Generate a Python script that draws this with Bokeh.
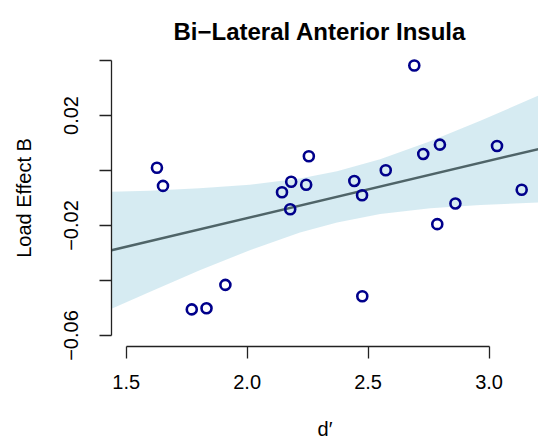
from bokeh.plotting import figure
from bokeh.models import Range1d, FixedTicker, ColumnDataSource
from bokeh.embed import file_html
from bokeh.resources import INLINE

# ---- data ----
d_prime = [1.627, 1.652, 1.771, 1.832, 1.910, 2.144, 2.182, 2.178, 2.244, 2.255,
           2.443, 2.475, 2.476, 2.573, 2.691, 2.728, 2.786, 2.797, 2.861, 3.033, 3.135]
load_effect_b = [0.0010, -0.0056, -0.0505, -0.0501, -0.0416, -0.0079, -0.0041, -0.0141,
                 -0.0052, 0.0052, -0.0038, -0.0090, -0.0457, 0.0001, 0.0382, 0.0060,
                 -0.0195, 0.0094, -0.0120, 0.0089, -0.0070]

fit_x = [1.4391, 3.2045]
fit_y = [-0.02902, 0.00780]

band_x = [1.4391, 1.5966, 1.8038, 2.0110, 2.2182, 2.3716, 2.5498, 2.7570, 2.9642, 3.2045]
band_upper = [-0.00777, -0.00733, -0.00649, -0.00521, -0.00295, -0.00029,
              0.00408, 0.01068, 0.01808, 0.02723]
band_lower = [-0.05027, -0.04415, -0.03631, -0.02898, -0.02257, -0.01888,
              -0.01582, -0.01374, -0.01254, -0.01163]

x_ticks = [1.5, 2.0, 2.5, 3.0]
x_tick_labels = {1.5: "1.5", 2.0: "2.0", 2.5: "2.5", 3.0: "3.0"}
y_ticks = [-0.06, -0.04, -0.02, 0.0, 0.02, 0.04]
y_tick_labels = {-0.06: "\u22120.06", -0.04: "", -0.02: "\u22120.02", 0.0: "", 0.02: "0.02", 0.04: ""}

title = "Bi\u2212Lateral Anterior Insula"
x_label = "d\u2032"
y_label = "Load Effect B"

FONT = "Liberation Sans"

p = figure(width=538, height=446, output_backend="svg", toolbar_location=None,
           x_range=Range1d(1.4391, 3.2045), y_range=Range1d(-0.064, 0.044),
           min_border_left=111, min_border_right=0, min_border_top=49, min_border_bottom=100,
           title=title)

p.outline_line_color = None
p.grid.visible = False
p.background_fill_color = "white"
p.border_fill_color = "white"

p.title.align = "left"
p.title.offset = 62
p.title.vertical_align = "bottom"
p.title.text_line_height = 0.6
p.title.text_font = FONT
p.title.text_font_size = "24px"
p.title.text_font_style = "bold"
p.title.text_color = "black"
p.title.standoff = 10

# confidence band
p.varea(x=band_x, y1=band_lower, y2=band_upper, fill_color="lightblue", fill_alpha=0.5)
# fit line
p.line(fit_x, fit_y, line_color="#4f6468", line_width=2.5)
# points
src = ColumnDataSource(dict(x=d_prime, y=load_effect_b))
p.scatter("x", "y", source=src, size=10, marker="circle", fill_color=None,
          line_color="#00008B", line_width=2.6)

for ax in (p.xaxis[0], p.yaxis[0]):
    ax.axis_line_color = "#222222"
    ax.axis_line_width = 1.3
    ax.major_tick_line_color = "#222222"
    ax.major_tick_line_width = 1.3
    ax.major_tick_out = 12
    ax.major_tick_in = 0
    ax.minor_tick_line_color = None
    ax.major_label_text_font = FONT
    ax.major_label_text_font_size = "20px"
    ax.major_label_text_color = "black"
    ax.axis_label_text_font = FONT
    ax.axis_label_text_font_size = "20px"
    ax.axis_label_text_font_style = "normal"
    ax.axis_label_text_color = "black"

xa = p.xaxis[0]
xa.ticker = FixedTicker(ticks=x_ticks)
xa.major_label_overrides = x_tick_labels
xa.bounds = (1.5, 3.0)
xa.axis_label = x_label
xa.major_label_standoff = 16
xa.axis_label_standoff = 26

ya = p.yaxis[0]
ya.ticker = FixedTicker(ticks=y_ticks)
ya.major_label_overrides = y_tick_labels
ya.bounds = (-0.06, 0.04)
ya.axis_label = y_label
ya.major_label_orientation = "vertical"
ya.major_label_standoff = 22
ya.axis_label_standoff = 26

open("out.html", "w").write(file_html(p, INLINE))
